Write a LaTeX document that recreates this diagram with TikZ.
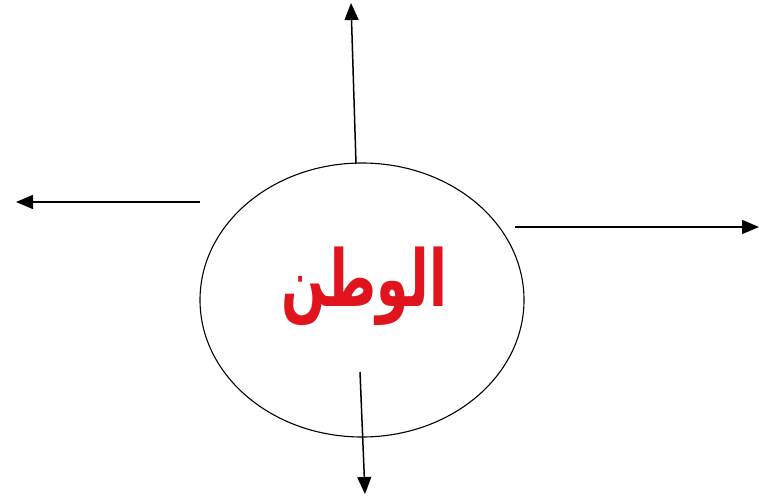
\documentclass[tikz,border=0pt]{standalone}
\usepackage{fontspec}
\usepackage{graphicx}
\newfontfamily\arabicfont[Script=Arabic]{DejaVu Sans}
\TeXXeTstate=1
\usetikzlibrary{arrows.meta,shapes.geometric}
\definecolor{wred}{RGB}{225,20,30}
\begin{document}
\begin{tikzpicture}[x=1pt,y=-1pt,
  conn/.style={line width=1.5pt,-{Triangle[length=17pt,width=14pt]}},
  oval/.style={ellipse,draw,line width=1.1pt,minimum width=324pt,minimum height=274pt,inner sep=0pt}]
\useasboundingbox (0,0) rectangle (759,500);
\node[oval] (e) at (362,300) {};
\node[text=wred,font=\arabicfont\bfseries\fontsize{56}{60}\selectfont,inner sep=0pt] (t) at (364,286) {\scalebox{0.93}[1.4]{\beginR الوطن\endR}};
\coordinate (us) at (356,164);
\coordinate (ue) at (351,3);
\coordinate (ls) at (200,202);
\coordinate (le) at (16,202);
\coordinate (rs) at (515,227);
\coordinate (re) at (759,227);
\coordinate (ds) at (360,372);
\coordinate (de) at (365,494);
\draw[conn] (us) -- (ue);
\draw[conn] (ls) -- (le);
\draw[conn] (rs) -- (re);
\draw[conn] (ds) -- (de);
\end{tikzpicture}
\end{document}
